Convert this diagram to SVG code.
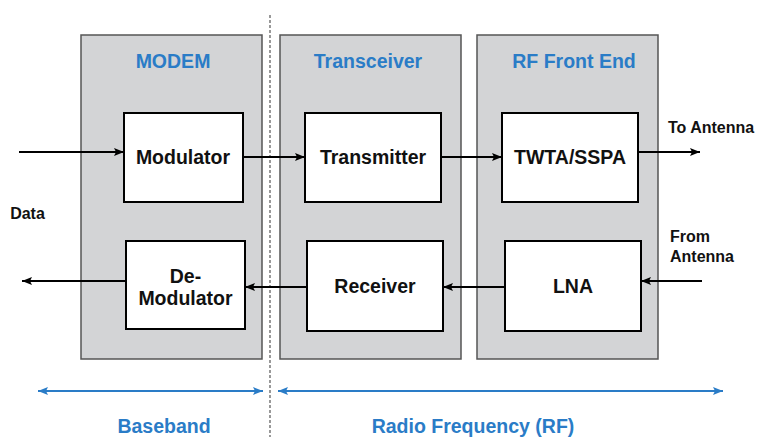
<svg xmlns="http://www.w3.org/2000/svg" width="759" height="437" viewBox="0 0 759 437">
<defs>
<marker id="ah" viewBox="0 0 10 8" refX="10" refY="4" markerWidth="10" markerHeight="8" markerUnits="userSpaceOnUse" orient="auto-start-reverse">
<path d="M0,0 L10,4 L0,8 L2,4 Z" fill="#000"/>
</marker>
<marker id="bh" viewBox="0 0 10 8" refX="10" refY="4" markerWidth="10" markerHeight="8" markerUnits="userSpaceOnUse" orient="auto-start-reverse">
<path d="M0,0 L10,4 L0,8 L2,4 Z" fill="#2a7cc7"/>
</marker>
</defs>
<style>
.panel{fill:#d3d4d6;stroke:#555;stroke-width:1.5}
.box{fill:#fff;stroke:#000;stroke-width:2}
.t{font-family:"Liberation Sans",Arial,sans-serif;font-weight:bold;fill:#111;text-anchor:middle}
.b{font-size:19.5px}
.s{font-size:16px}
.blue{fill:#2a7cc7;font-size:19.5px}
.c{stroke:#000;stroke-width:2;fill:none}
.bl{stroke:#2a7cc7;stroke-width:2;fill:none}
</style>
<rect width="759" height="437" fill="#fff"/>
<g id="modem">
<rect class="panel" x="81" y="35" width="181" height="324"/>
<text class="t blue" x="173" y="68">MODEM</text>
</g>
<g id="transceiver">
<rect class="panel" x="280" y="35" width="181" height="324"/>
<text class="t blue" x="368" y="68">Transceiver</text>
</g>
<g id="rffrontend">
<rect class="panel" x="477" y="35" width="181" height="324"/>
<text class="t blue" x="574" y="68">RF Front End</text>
</g>
<line x1="270" y1="15" x2="270" y2="437" stroke="#555" stroke-width="1.2" stroke-dasharray="3,2"/>
<g id="modulator">
<rect class="box" x="124" y="113" width="119" height="89"/>
<text class="t b" x="183" y="164">Modulator</text>
</g>
<g id="demodulator">
<rect class="box" x="126" y="241" width="119" height="88"/>
<text class="t b" x="185.5" y="283">De-</text>
<text class="t b" x="185.5" y="305">Modulator</text>
</g>
<g id="transmitter">
<rect class="box" x="305" y="113" width="136" height="89"/>
<text class="t b" x="373" y="164">Transmitter</text>
</g>
<g id="receiver">
<rect class="box" x="307" y="241" width="136" height="90"/>
<text class="t b" x="375" y="293">Receiver</text>
</g>
<g id="twta">
<rect class="box" x="502" y="113" width="136" height="89"/>
<text class="t b" x="570" y="164">TWTA/SSPA</text>
</g>
<g id="lna">
<rect class="box" x="505" y="241" width="136" height="90"/>
<text class="t b" x="573" y="293">LNA</text>
</g>
<g id="connectors">
<line class="c" x1="19" y1="152" x2="124" y2="152" marker-end="url(#ah)"/>
<line class="c" x1="126" y1="281" x2="22" y2="281" marker-end="url(#ah)"/>
<line class="c" x1="243" y1="157" x2="305" y2="157" marker-end="url(#ah)"/>
<line class="c" x1="441" y1="157" x2="502" y2="157" marker-end="url(#ah)"/>
<line class="c" x1="638" y1="152" x2="700" y2="152" marker-end="url(#ah)"/>
<line class="c" x1="702" y1="281" x2="641" y2="281" marker-end="url(#ah)"/>
<line class="c" x1="505" y1="287" x2="443" y2="287" marker-end="url(#ah)"/>
<line class="c" x1="307" y1="287" x2="245" y2="287" marker-end="url(#ah)"/>
<line class="bl" x1="38" y1="391" x2="263" y2="391" marker-start="url(#bh)" marker-end="url(#bh)"/>
<line class="bl" x1="278" y1="391" x2="723" y2="391" marker-start="url(#bh)" marker-end="url(#bh)"/>
</g>
<g id="labels">
<text class="t s" x="27.5" y="219">Data</text>
<text class="t s" x="668" y="133" style="text-anchor:start">To Antenna</text>
<text class="t s" x="670" y="242" style="text-anchor:start">From</text>
<text class="t s" x="670" y="262" style="text-anchor:start">Antenna</text>
<text class="t blue" x="164" y="433">Baseband</text>
<text class="t blue" x="473" y="433">Radio Frequency (RF)</text>
</g>
</svg>
